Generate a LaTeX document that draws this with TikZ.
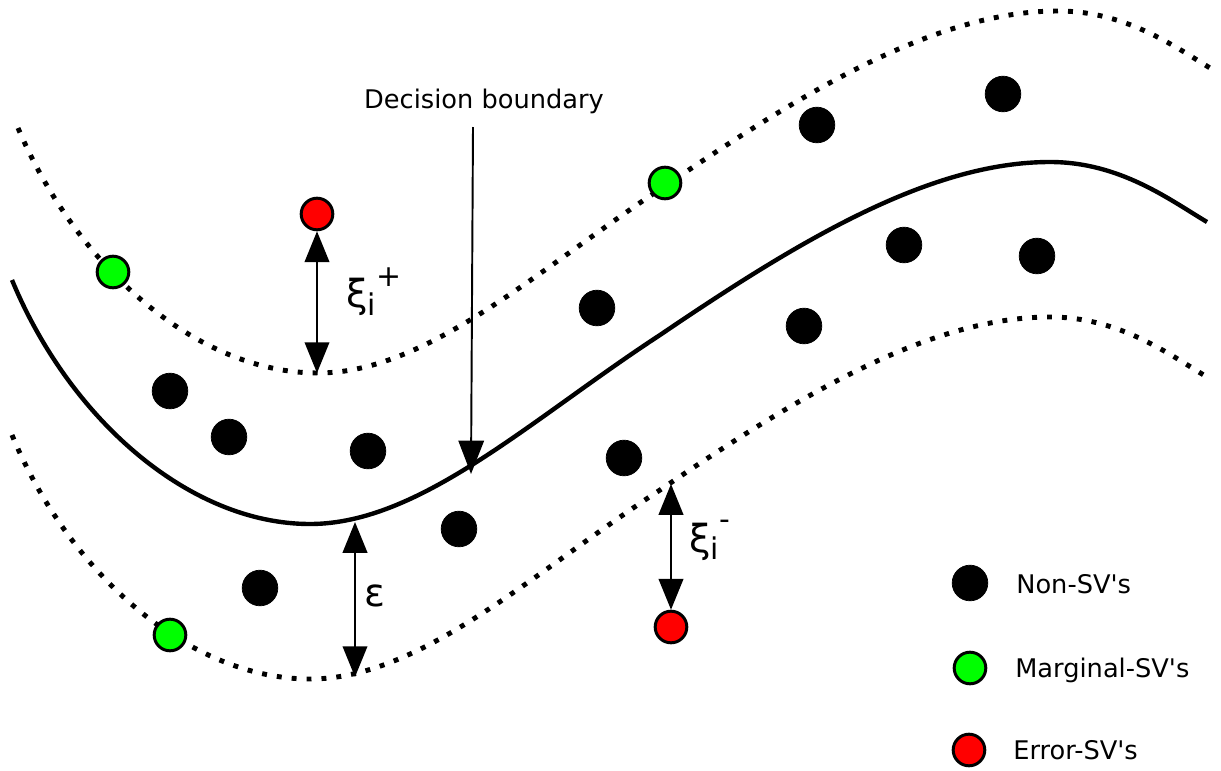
\documentclass[tikz,border=0pt]{standalone}
\usepackage{fontspec}
\setmainfont{DejaVu Sans}
\usetikzlibrary{arrows.meta}
\begin{document}
\begin{tikzpicture}[x=0.02cm,y=-0.02cm,
  dotb/.style={circle,fill=black,draw=black,inner sep=0pt,minimum size=20.3pt},
  dotg/.style={circle,fill=green,draw=black,line width=1.7pt,inner sep=0pt,minimum size=18pt},
  dotr/.style={circle,fill=red,draw=black,line width=1.7pt,inner sep=0pt,minimum size=18pt},
  boundary/.style={line width=2.5pt},
  margin/.style={line width=2.8pt,dash pattern=on 2.8pt off 5.7pt},
  dim/.style={line width=1.1pt,{Triangle[length=17.5pt,width=14pt]}-{Triangle[length=17.5pt,width=14pt]}},
  pointer/.style={line width=1.1pt,-{Triangle[length=19pt,width=14.5pt]}},
  lbl/.style={font=\fontsize{14.6}{17}\selectfont,inner sep=0pt},
  greek/.style={font=\fontsize{22}{26}\selectfont,inner sep=0pt}
]
\useasboundingbox (0,0) rectangle (1221,771);
% curves
\draw[boundary] (12,280) .. controls (70,420) and (190,524) .. (310,524)
  .. controls (420,524) and (530,420) .. (660,335)
  .. controls (800,240) and (930,162) .. (1050,162)
  .. controls (1120,162) and (1170,200) .. (1207,222);
\begin{scope}[shift={(8,-151)}]
\draw[margin] (10,279) .. controls (70,420) and (190,524) .. (310,524)
  .. controls (420,524) and (530,420) .. (660,335)
  .. controls (800,240) and (930,162) .. (1050,162)
  .. controls (1120,162) and (1170,200) .. (1207,222);
\end{scope}
\begin{scope}[shift={(0,155)}]
\draw[margin] (12,280) .. controls (70,420) and (190,524) .. (310,524)
  .. controls (420,524) and (530,420) .. (660,335)
  .. controls (800,240) and (930,162) .. (1050,162)
  .. controls (1120,162) and (1170,200) .. (1207,222);
\end{scope}
% points
\foreach \n/\x/\y in {b1/1003/94,b2/817/125,b3/904/245,b4/1037/256,b5/597/308,b6/804/326,b7/170/391,b8/229/437,b9/368/451,b10/624/458,b11/459/529,b12/260/588}
  \node[dotb] (\n) at (\x,\y) {};
\node[dotg] (g1) at (113,272) {};
\node[dotg] (g2) at (665,183) {};
\node[dotg] (g3) at (170,635) {};
\node[dotr] (r1) at (317,214) {};
\node[dotr] (r2) at (671,627) {};
% arrows
\coordinate (up1) at (317,373);
\coordinate (lo1) at (671,484);
\coordinate (sol1) at (355,522);
\coordinate (lo2) at (355,677);
\coordinate (sol2) at (471,474);
\draw[dim] (r1) -- (up1);
\draw[dim] (lo1) -- (r2);
\draw[dim] (sol1) -- (lo2);
\node[lbl] (db) at (484,101) {Decision boundary};
\coordinate (dbtop) at (473,127);
\draw[pointer] (dbtop) -- (sol2);
% labels
\node[greek,anchor=west] (xip) at (346,292) {ξ\raisebox{-0.35ex}{\fontsize{17}{20}\selectfont i}\raisebox{1.0ex}{\fontsize{17}{20}\selectfont +}};
\node[greek,anchor=west] (xim) at (689,540) {ξ\raisebox{-0.35ex}{\fontsize{17}{20}\selectfont i}\raisebox{1.1ex}{\fontsize{17}{20}\selectfont -}};
\node[greek,anchor=west] (eps) at (364,596) {ε};
% legend
\node[dotb] (lb) at (970,583) {};
\node[dotg] (lg) at (970,668) {};
\node[dotr] (lr) at (969,750) {};
\node[lbl,anchor=west] at (1016,584) {Non-SV\textquotesingle s};
\node[lbl,anchor=west] at (1015,670) {Marginal-SV\textquotesingle s};
\node[lbl,anchor=west] at (1013,750) {Error-SV\textquotesingle s};
\end{tikzpicture}
\end{document}
